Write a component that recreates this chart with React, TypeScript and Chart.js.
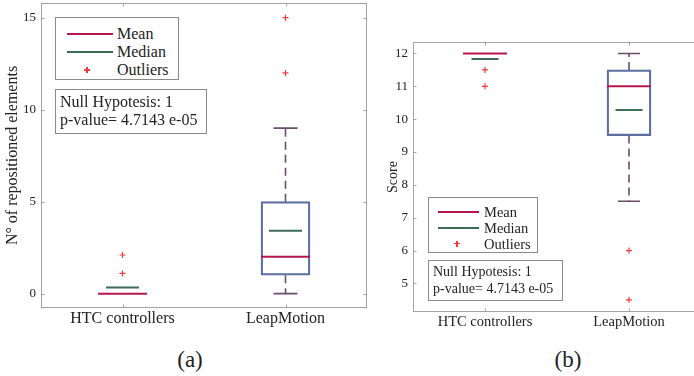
import React, { useEffect, useRef } from 'react';
import { Chart, registerables } from 'chart.js';

Chart.register(...registerables);

const FONT = '"Liberation Serif", "Times New Roman", serif';

// ---------- data ----------
const categories = ['HTC controllers', 'LeapMotion'];

// Panel (a): number of repositioned elements
const repoBoxLow = [null, 1];
const repoBoxHigh = [null, 5];
const repoMean = [0, 2];
const repoMedian = [0.33, 3.42];
const repoWhiskerLow = [null, 0];
const repoWhiskerHigh = [null, 9];
const repoOutliersHTC = [1.1, 2.1];
const repoOutliersLeap = [12, 15];
const repoTicks = [0, 5, 10, 15];
const repoRange = [-0.78, 15.8];

// Panel (b): score
const scoreBoxLow = [null, 9.5];
const scoreBoxHigh = [null, 11.5];
const scoreMean = [12, 11];
const scoreMedian = [11.83, 10.28];
const scoreWhiskerLow = [null, 7.5];
const scoreWhiskerHigh = [null, 12];
const scoreOutliersHTC = [11, 11.5];
const scoreOutliersLeap = [4.5, 6];
const scoreTicks = [5, 6, 7, 8, 9, 10, 11, 12];
const scoreRange = [4.13, 12.35];

const legendLabels = ['Mean', 'Median', 'Outliers'];
const hypothesisLines = ['Null Hypotesis: 1', 'p-value= 4.7143 e-05'];

// ---------- styles ----------
const C = {
  box: '#5b6fa3',
  mean: '#b5174b',
  median: '#3d6b56',
  whisker: '#6b4b6e',
  outlier: '#ee3b3b',
  axis: '#a3a3a3',
  text: '#222222',
  frame: '#8a8a8a',
};

const framePlugin = {
  id: 'matlabFrame',
  beforeDatasetsDraw(chart: any) {
    const { ctx, chartArea, scales } = chart;
    const { left, right, top, bottom } = chartArea;
    ctx.save();
    ctx.strokeStyle = C.axis;
    ctx.lineWidth = 1;
    const L = Math.round(left) + 0.5;
    const R = Math.round(right) - 0.5;
    const T = Math.round(top) + 0.5;
    const B = Math.round(bottom) - 0.5;
    ctx.strokeRect(L, T, R - L, B - T);
    ctx.beginPath();
    scales.y.ticks.forEach((t: any) => {
      const py = Math.round(scales.y.getPixelForValue(t.value)) + 0.5;
      ctx.moveTo(L, py);
      ctx.lineTo(L + 3, py);
      ctx.moveTo(R, py);
      ctx.lineTo(R - 3, py);
    });
    scales.x.ticks.forEach((_t: any, i: number) => {
      const px = Math.round(scales.x.getPixelForTick(i)) + 0.5;
      ctx.moveTo(px, T);
      ctx.lineTo(px, T + 3);
      ctx.moveTo(px, B);
      ctx.lineTo(px, B - 3);
    });
    ctx.stroke();
    ctx.restore();
  },
};

type Spec = {
  boxLow: (number | null)[];
  boxHigh: (number | null)[];
  mean: number[];
  median: number[];
  wLow: (number | null)[];
  wHigh: (number | null)[];
  outHTC: number[];
  outLeap: number[];
  ticks: number[];
  range: number[];
  yTitle: string;
  // geometry / style
  left: number;
  w: number;
  h: number;
  padTop: number;
  padRight: number;
  yWidth: number;
  xHeight: number;
  boxW: number;
  medW: number;
  capW: number;
  tickFont: number;
  catFont: number;
  titleFont: number;
  titlePadTop: number;
};

function marks(data: any[], color: string, radius: number, width: number, style: string, order: number) {
  return {
    type: 'line',
    data,
    showLine: false,
    pointStyle: style,
    pointRadius: radius,
    pointBorderColor: color,
    pointBackgroundColor: color,
    pointBorderWidth: width,
    borderColor: color,
    order,
  };
}

function whisker(cat: string, from: number, to: number) {
  return {
    type: 'line',
    data: [
      { x: cat, y: from },
      { x: cat, y: to },
    ],
    borderColor: C.whisker,
    borderWidth: 1.6,
    borderDash: [8, 5],
    pointRadius: 0,
    fill: false,
    order: 5,
  };
}

function buildConfig(s: Spec): any {
  const ds: any[] = [];
  ds.push({
    type: 'bar',
    data: s.boxLow.map((v, i) => (v == null ? null : [v, s.boxHigh[i]])),
    backgroundColor: 'rgba(0,0,0,0)',
    borderColor: C.box,
    borderWidth: 1.6,
    borderSkipped: false,
    barThickness: s.boxW,
    order: 6,
  });
  categories.forEach((c, i) => {
    const lo = s.wLow[i];
    const hi = s.wHigh[i];
    if (lo != null) ds.push(whisker(c, s.boxLow[i] as number, lo));
    if (hi != null) ds.push(whisker(c, s.boxHigh[i] as number, hi));
  });
  const caps: any[] = [];
  categories.forEach((c, i) => {
    if (s.wLow[i] != null) caps.push({ x: c, y: s.wLow[i] });
    if (s.wHigh[i] != null) caps.push({ x: c, y: s.wHigh[i] });
  });
  ds.push(marks(caps, C.whisker, s.capW / 2, 1.6, 'line', 4));
  ds.push(marks(categories.map((c, i) => ({ x: c, y: s.mean[i] })), C.mean, s.boxW / 2, 2, 'line', 2));
  ds.push(marks(categories.map((c, i) => ({ x: c, y: s.median[i] })), C.median, s.medW / 2, 2, 'line', 1));
  const outs = [
    ...s.outHTC.map((v) => ({ x: categories[0], y: v })),
    ...s.outLeap.map((v) => ({ x: categories[1], y: v })),
  ];
  ds.push(marks(outs, C.outlier, 3, 1.2, 'cross', 0));

  return {
    type: 'bar',
    data: { labels: categories, datasets: ds },
    plugins: [framePlugin],
    options: {
      responsive: false,
      animation: false,
      events: [],
      layout: { autoPadding: false, padding: { left: 0, top: s.padTop, right: s.padRight, bottom: 0 } },
      plugins: { legend: { display: false }, tooltip: { enabled: false } },
      scales: {
        x: {
          type: 'category',
          offset: true,
          grid: { display: false, drawTicks: false },
          border: { display: false },
          ticks: { font: { family: FONT, size: s.catFont }, color: C.text, padding: 1, maxRotation: 0 },
          afterFit: (sc: any) => {
            sc.height = s.xHeight;
            sc.paddingLeft = 0;
            sc.paddingRight = 0;
          },
        },
        y: {
          type: 'linear',
          min: s.range[0],
          max: s.range[1],
          grid: { display: false, drawTicks: false },
          border: { display: false },
          ticks: { font: { family: FONT, size: s.tickFont }, color: C.text, padding: 5 },
          afterBuildTicks: (sc: any) => {
            sc.ticks = s.ticks.map((v) => ({ value: v }));
          },
          afterFit: (sc: any) => {
            sc.width = s.yWidth;
            sc.paddingTop = 0;
            sc.paddingBottom = 0;
          },
          title: {
            display: true,
            text: s.yTitle,
            color: C.text,
            font: { family: FONT, size: s.titleFont },
            padding: { top: s.titlePadTop, bottom: 0 },
          },
        },
      },
    },
  };
}

const specA: Spec = {
  boxLow: repoBoxLow,
  boxHigh: repoBoxHigh,
  mean: repoMean,
  median: repoMedian,
  wLow: repoWhiskerLow,
  wHigh: repoWhiskerHigh,
  outHTC: repoOutliersHTC,
  outLeap: repoOutliersLeap,
  ticks: repoTicks,
  range: repoRange,
  yTitle: 'N° of repositioned elements',
  left: 0,
  w: 372,
  h: 340,
  padTop: 3,
  padRight: 5,
  yWidth: 41,
  xHeight: 32,
  boxW: 49,
  medW: 33,
  capW: 24,
  tickFont: 13,
  catFont: 16,
  titleFont: 16,
  titlePadTop: 3.4,
};

const specB: Spec = {
  boxLow: scoreBoxLow,
  boxHigh: scoreBoxHigh,
  mean: scoreMean,
  median: scoreMedian,
  wLow: scoreWhiskerLow,
  wHigh: scoreWhiskerHigh,
  outHTC: scoreOutliersHTC,
  outLeap: scoreOutliersLeap,
  ticks: scoreTicks,
  range: scoreRange,
  yTitle: 'Score',
  left: 372,
  w: 338,
  h: 340,
  padTop: 42,
  padRight: 9,
  yWidth: 41,
  xHeight: 28,
  boxW: 44,
  medW: 27,
  capW: 22,
  tickFont: 13,
  catFont: 14.5,
  titleFont: 14,
  titlePadTop: 12.6,
};

function BoxPanel({ spec }: { spec: Spec }) {
  const ref = useRef<HTMLCanvasElement>(null);
  useEffect(() => {
    const chart = new Chart(ref.current as HTMLCanvasElement, buildConfig(spec));
    return () => chart.destroy();
  }, [spec]);
  return (
    <canvas
      ref={ref}
      width={spec.w}
      height={spec.h}
      style={{ position: 'absolute', left: spec.left, top: 0, width: spec.w, height: spec.h }}
    />
  );
}

type LegendGeo = {
  left: number;
  top: number;
  width: number;
  height: number;
  rows: number[];
  swatchLeft: number;
  swatchWidth: number;
  plusX: number;
  textLeft: number;
  font: number;
};

function Cross({ x, y }: { x: number; y: number }) {
  return (
    <>
      <div style={{ position: 'absolute', left: x - 3, top: y - 0.6, width: 6, height: 1.2, background: C.outlier }} />
      <div style={{ position: 'absolute', left: x - 0.6, top: y - 3, width: 1.2, height: 6, background: C.outlier }} />
    </>
  );
}

function LegendBox({ g }: { g: LegendGeo }) {
  const colors = [C.mean, C.median];
  return (
    <div
      style={{
        position: 'absolute',
        left: g.left,
        top: g.top,
        width: g.width,
        height: g.height,
        border: `1px solid ${C.frame}`,
        boxSizing: 'border-box',
        background: '#fff',
      }}
    >
      {legendLabels.map((lab, i) => (
        <React.Fragment key={lab}>
          {i < 2 ? (
            <div
              style={{
                position: 'absolute',
                left: g.swatchLeft,
                top: g.rows[i] - 1,
                width: g.swatchWidth,
                height: 2,
                background: colors[i],
              }}
            />
          ) : (
            <Cross x={g.plusX} y={g.rows[i]} />
          )}
          <div
            style={{
              position: 'absolute',
              left: g.textLeft,
              top: g.rows[i] - 10,
              height: 20,
              lineHeight: '20px',
              fontSize: g.font,
              fontFamily: FONT,
              color: C.text,
              whiteSpace: 'nowrap',
            }}
          >
            {lab}
          </div>
        </React.Fragment>
      ))}
    </div>
  );
}

type HypGeo = { left: number; top: number; width: number; height: number; rows: number[]; textLeft: number; font: number };

function HypBox({ g }: { g: HypGeo }) {
  return (
    <div
      style={{
        position: 'absolute',
        left: g.left,
        top: g.top,
        width: g.width,
        height: g.height,
        border: `1px solid ${C.frame}`,
        boxSizing: 'border-box',
        background: '#fff',
      }}
    >
      {hypothesisLines.map((t, i) => (
        <div
          key={t}
          style={{
            position: 'absolute',
            left: g.textLeft,
            top: g.rows[i] - 10,
            height: 20,
            lineHeight: '20px',
            fontSize: g.font,
            fontFamily: FONT,
            color: C.text,
            whiteSpace: 'nowrap',
          }}
        >
          {t}
        </div>
      ))}
    </div>
  );
}

function Caption({ text, x, y }: { text: string; x: number; y: number }) {
  return (
    <div
      style={{
        position: 'absolute',
        left: x,
        top: y,
        transform: 'translate(-50%, -50%)',
        fontFamily: FONT,
        fontSize: 23,
        lineHeight: 1,
        color: C.text,
        whiteSpace: 'nowrap',
      }}
    >
      {text}
    </div>
  );
}

export default function App() {
  return (
    <div
      style={{
        position: 'fixed',
        left: 0,
        top: 0,
        width: 694,
        height: 376,
        overflow: 'hidden',
        background: '#fff',
      }}
    >
      <BoxPanel spec={specA} />
      <BoxPanel spec={specB} />
      <LegendBox
        g={{ left: 55, top: 17, width: 124, height: 63, rows: [16, 34, 52], swatchLeft: 11, swatchWidth: 46, plusX: 31, textLeft: 61, font: 16 }}
      />
      <HypBox g={{ left: 55, top: 89, width: 152, height: 45, rows: [12, 30], textLeft: 4, font: 16 }} />
      <LegendBox
        g={{ left: 428, top: 197, width: 110, height: 56, rows: [14, 29.5, 45.5], swatchLeft: 9, swatchWidth: 41, plusX: 28, textLeft: 55, font: 14.5 }}
      />
      <HypBox g={{ left: 428, top: 260, width: 135, height: 41, rows: [11, 27.5], textLeft: 4, font: 14 }} />
      <Caption text="(a)" x={190} y={359} />
      <Caption text="(b)" x={568} y={359} />
    </div>
  );
}
